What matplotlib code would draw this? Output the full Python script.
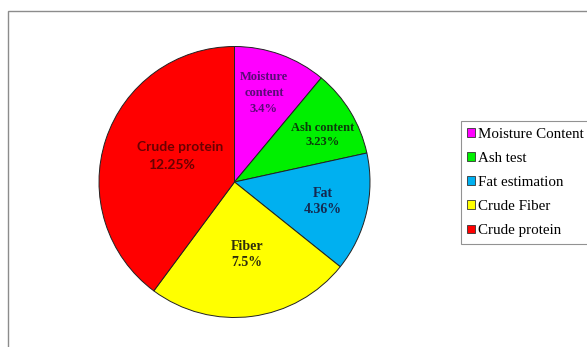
import matplotlib.pyplot as plt
from matplotlib.patches import Rectangle, Patch

# proximate composition values (%)
values = [3.4, 3.23, 4.36, 7.5, 12.25]
legend_names = ["Moisture Content", "Ash test", "Fat estimation", "Crude Fiber", "Crude protein"]
slice_names = ["Moisture\ncontent", "Ash content", "Fat", "Fiber", "Crude protein"]
colors = ["#FF00FF", "#00F000", "#00B0F0", "#FFFF00", "#FF0000"]
text_colors = ["#5A0A78", "#0B3D0B", "#15284F", "#2E2E0E", "#6A0000"]

fig = plt.figure(figsize=(5.87, 3.47), dpi=100)
ax = fig.add_axes([0, 0, 1, 1])

wedges, _ = ax.pie(values, colors=colors, startangle=90, counterclock=False,
                   center=(234.5, 165), radius=135.5,
                   wedgeprops=dict(edgecolor="#222222", linewidth=0.7))

ax.set_xlim(0, 587)
ax.set_ylim(0, 347)
ax.set_aspect("equal")
ax.axis("off")

# outer chart frame
ax.add_patch(Rectangle((8, -10), 600, 346, fill=False, edgecolor="#8c8c8c", linewidth=1.0))

# labels inside the slices
label_pos = [(264, 254), (323, 212), (323, 146), (247, 92)]
label_size = [9, 9, 10, 10]
label_spacing = [1.45, 1.3, 1.3, 1.3]
for i, (x, y) in enumerate(label_pos):
    txt = slice_names[i] + "\n" + f"{values[i]}%"
    ax.text(x, y, txt, ha="center", va="center", color=text_colors[i],
            fontsize=label_size[i], family="Liberation Serif", fontweight="bold",
            linespacing=label_spacing[i])

# crude protein label uses a sans font, second line sits a bit to the left
ax.text(180, 200, slice_names[4], ha="center", va="center", color=text_colors[4],
        fontsize=10, family="Lato", fontweight="bold")
ax.text(172, 182, f"{values[4]}%", ha="center", va="center", color=text_colors[4],
        fontsize=10, family="Lato", fontweight="bold")

handles = [Patch(facecolor=c, edgecolor="#333333", linewidth=0.6) for c in colors]
leg = ax.legend(handles, legend_names, loc="upper left", bbox_to_anchor=(460.5, 226),
                bbox_transform=ax.transData, frameon=True, fancybox=False,
                prop={"family": "Liberation Serif", "size": 10.8},
                handlelength=0.5, handleheight=0.5, handletextpad=0.25,
                labelspacing=0.74, borderpad=0.45, borderaxespad=0)
leg.get_frame().set_edgecolor("#777777")
leg.get_frame().set_linewidth(0.8)

fig.savefig("out.png", dpi=100)
